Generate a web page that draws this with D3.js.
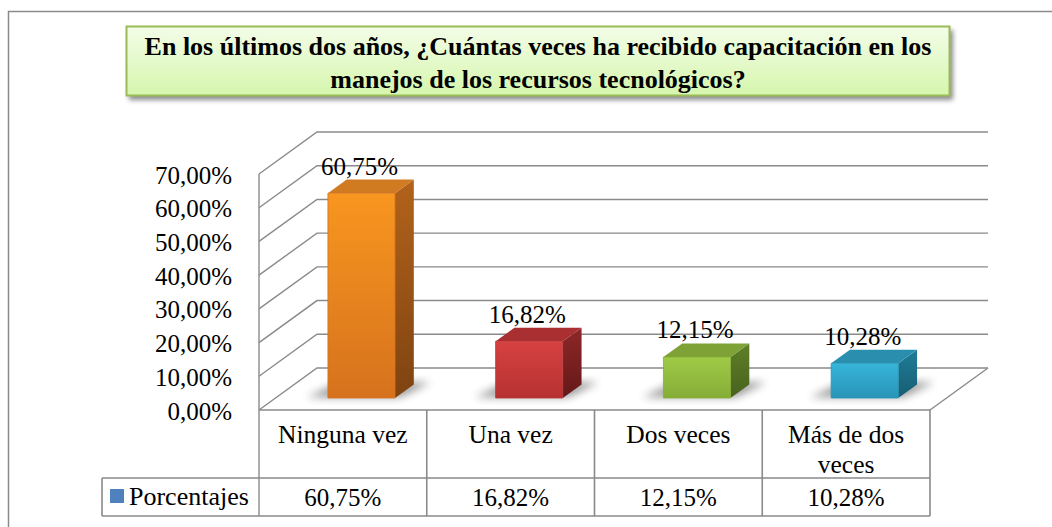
<!DOCTYPE html>
<html><head><meta charset="utf-8">
<script src="https://cdn.jsdelivr.net/npm/d3@7"></script>
<style>body{margin:0;background:#fff}svg{display:block}</style>
</head><body>
<script>
const titleLines = ["En los últimos dos años, ¿Cuántas veces ha recibido capacitación en los", "manejos de los recursos tecnológicos?"];
const categories = ["Ninguna vez", "Una vez", "Dos veces", "Más de dos veces"];
const categoryLines = [["Ninguna vez"], ["Una vez"], ["Dos veces"], ["Más de dos", "veces"]];
const values = [60.75, 16.82, 12.15, 10.28];
const seriesName = "Porcentajes";
const yTicks = [0, 10, 20, 30, 40, 50, 60, 70];
const barColors = [
  {front:["#F8961F","#D6721D"], side:["#B2631B","#7F4311"], top:"#D07A22"},
  {front:["#D64141","#B73131"], side:["#8E2728","#651818"], top:"#A92F30"},
  {front:["#9FCB48","#86AD37"], side:["#5F7F27","#48621E"], top:"#7EA236"},
  {front:["#37B5DA","#2895B7"], side:["#1F7C97","#175E74"], top:"#2A8FAE"}
];

const FONT = "'Liberation Serif', 'Times New Roman', serif";
const W = 1052, H = 527;
const svg = d3.select("body").append("svg").attr("width", W).attr("height", H)
  .style("font-family", FONT);
const defs = svg.append("defs");
const fmt = v => d3.format(".2f")(v).replace(".", ",") + "%";
const txt = (g) => g.append("text").style("font-family", FONT).attr("fill", "#000");

// plot geometry
const X0 = 259, X1 = 930, Y0 = 410, DX = 58, DY = -42;
const x = d3.scaleBand().domain(categories).range([X0, X1]).padding(0);
const y = d3.scaleLinear().domain([0, 70]).range([Y0, 174]);
const tFront = 0.286, tBack = 0.61;
const P = (px, v, t) => [px + DX * t, y(v) + DY * t];

// outer border
svg.append("rect").attr("x", 8.5).attr("y", 11.5).attr("width", 1100).attr("height", 600)
  .attr("fill", "none").attr("stroke", "#8a8a8a").attr("stroke-width", 1.5);

// filters
const sh = defs.append("filter").attr("id", "tsh").attr("x", "-5%").attr("y", "-20%").attr("width", "115%").attr("height", "160%");
sh.append("feGaussianBlur").attr("stdDeviation", 2.5);
const bsh = defs.append("filter").attr("id", "bsh").attr("x", "-50%").attr("y", "-50%").attr("width", "200%").attr("height", "200%");
bsh.append("feGaussianBlur").attr("stdDeviation", 4);

// title box
const tg = defs.append("linearGradient").attr("id", "tgrad").attr("x1", 0).attr("y1", 0).attr("x2", 0).attr("y2", 1);
tg.append("stop").attr("offset", 0).attr("stop-color", "#F3FDE8");
tg.append("stop").attr("offset", 1).attr("stop-color", "#D6F6AD");
svg.append("rect").attr("x", 129).attr("y", 30).attr("width", 824).attr("height", 70)
  .attr("fill", "#000").attr("opacity", 0.45).attr("filter", "url(#tsh)");
svg.append("rect").attr("x", 126.5).attr("y", 26.5).attr("width", 823).attr("height", 69)
  .attr("fill", "url(#tgrad)").attr("stroke", "#9BBB59").attr("stroke-width", 2);
const tgrp = svg.append("g");
titleLines.forEach((d, i) => {
  txt(tgrp).attr("x", 538).attr("y", 55 + i * 33).attr("text-anchor", "middle")
    .attr("font-weight", "bold").attr("font-size", 26).text(d);
});

// walls & gridlines
const grid = svg.append("g").attr("stroke", "#8a8a8a").attr("stroke-width", 1.4).attr("fill", "none");
yTicks.forEach(v => {
  const a = P(X0, v, 0), b = P(X0, v, 1), c = P(X1, v, 1);
  grid.append("polyline").attr("points", [a, b, c].map(p => p.join(",")).join(" "));
});
grid.append("line").attr("x1", X0).attr("y1", y(70)).attr("x2", X0).attr("y2", 516);
{
  const a = P(X1, 0, 0), b = P(X1, 0, 1);
  grid.append("line").attr("x1", a[0]).attr("y1", a[1]).attr("x2", b[0]).attr("y2", b[1]);
}

// y axis labels
const yAxis = d3.axisLeft(y).tickValues(yTicks).tickFormat(fmt).tickSize(0).tickPadding(27);
const ya = svg.append("g").attr("transform", `translate(${X0},0)`).call(yAxis);
ya.select(".domain").remove();
ya.attr("font-family", null);
ya.selectAll("text").attr("font-size", 25).style("font-family", FONT).attr("fill", "#000").attr("dy", "0.36em");

// bars
const bw = x.bandwidth() * 0.4;
const bars = svg.append("g");
const labels = svg.append("g");
categories.forEach((c, i) => {
  const v = values[i], col = barColors[i];
  const cx = x(c) + x.bandwidth() / 2 + 2;
  const L = cx - bw / 2, R = cx + bw / 2;
  const gid = "gf" + i, sid = "gs" + i;
  const gf = defs.append("linearGradient").attr("id", gid).attr("x1", 0).attr("y1", 0).attr("x2", 0).attr("y2", 1);
  gf.append("stop").attr("offset", 0).attr("stop-color", col.front[0]);
  gf.append("stop").attr("offset", 1).attr("stop-color", col.front[1]);
  const gs = defs.append("linearGradient").attr("id", sid).attr("x1", 0).attr("y1", 0).attr("x2", 0).attr("y2", 1);
  gs.append("stop").attr("offset", 0).attr("stop-color", col.side[0]);
  gs.append("stop").attr("offset", 1).attr("stop-color", col.side[1]);
  const poly = pts => pts.map(p => p.join(",")).join(" ");
  // shadow on floor
  const s1 = P(L - 22, 0, tFront + 0.02), s2 = P(R + 4, 0, tFront + 0.02), s3 = P(R + 14, 0, tBack + 0.05), s4 = P(L - 10, 0, tBack + 0.05);
  bars.append("polygon").attr("points", poly([s1, s2, s3, s4])).attr("fill", "#000").attr("opacity", 0.4).attr("filter", "url(#bsh)");
  const fbl = P(L, 0, tFront), fbr = P(R, 0, tFront), ftl = P(L, v, tFront), ftr = P(R, v, tFront);
  const bbr = P(R, 0, tBack), btr = P(R, v, tBack), btl = P(L, v, tBack);
  bars.append("polygon").attr("points", poly([fbr, bbr, btr, ftr])).attr("fill", `url(#${sid})`);
  bars.append("polygon").attr("points", poly([ftl, ftr, btr, btl])).attr("fill", col.top);
  bars.append("polygon").attr("points", poly([fbl, fbr, ftr, ftl])).attr("fill", `url(#${gid})`)
    .attr("stroke", col.front[1]).attr("stroke-width", 0.8);
  txt(labels).attr("x", (ftl[0] + ftr[0]) / 2 - 2).attr("y", btr[1] - 5)
    .attr("text-anchor", "middle").attr("font-size", 25).text(fmt(v));
});

// data table
const tbl = svg.append("g").attr("stroke", "#8a8a8a").attr("stroke-width", 1.6).attr("fill", "none");
tbl.append("line").attr("x1", X0).attr("y1", Y0).attr("x2", X1).attr("y2", Y0);
tbl.append("line").attr("x1", 102).attr("y1", 478).attr("x2", X1).attr("y2", 478);
tbl.append("line").attr("x1", 102).attr("y1", 516).attr("x2", X1).attr("y2", 516);
tbl.append("line").attr("x1", 102).attr("y1", 478).attr("x2", 102).attr("y2", 516);
categories.forEach(c => {
  tbl.append("line").attr("x1", x(c) + x.bandwidth()).attr("y1", Y0).attr("x2", x(c) + x.bandwidth()).attr("y2", 516);
});
const tt = svg.append("g");
categories.forEach((c, i) => {
  const cx = x(c) + x.bandwidth() / 2;
  categoryLines[i].forEach((ln, j) => {
    txt(tt).attr("x", cx).attr("y", 443 + j * 30).attr("text-anchor", "middle").attr("font-size", 25.5).text(ln);
  });
  txt(tt).attr("x", cx).attr("y", 506).attr("text-anchor", "middle").attr("font-size", 25).text(fmt(values[i]));
});
svg.append("rect").attr("x", 110).attr("y", 489).attr("width", 14).attr("height", 14).attr("fill", "#4F81BD");
txt(svg).attr("x", 129).attr("y", 505).attr("font-size", 26).text(seriesName);
</script>
</body></html>
